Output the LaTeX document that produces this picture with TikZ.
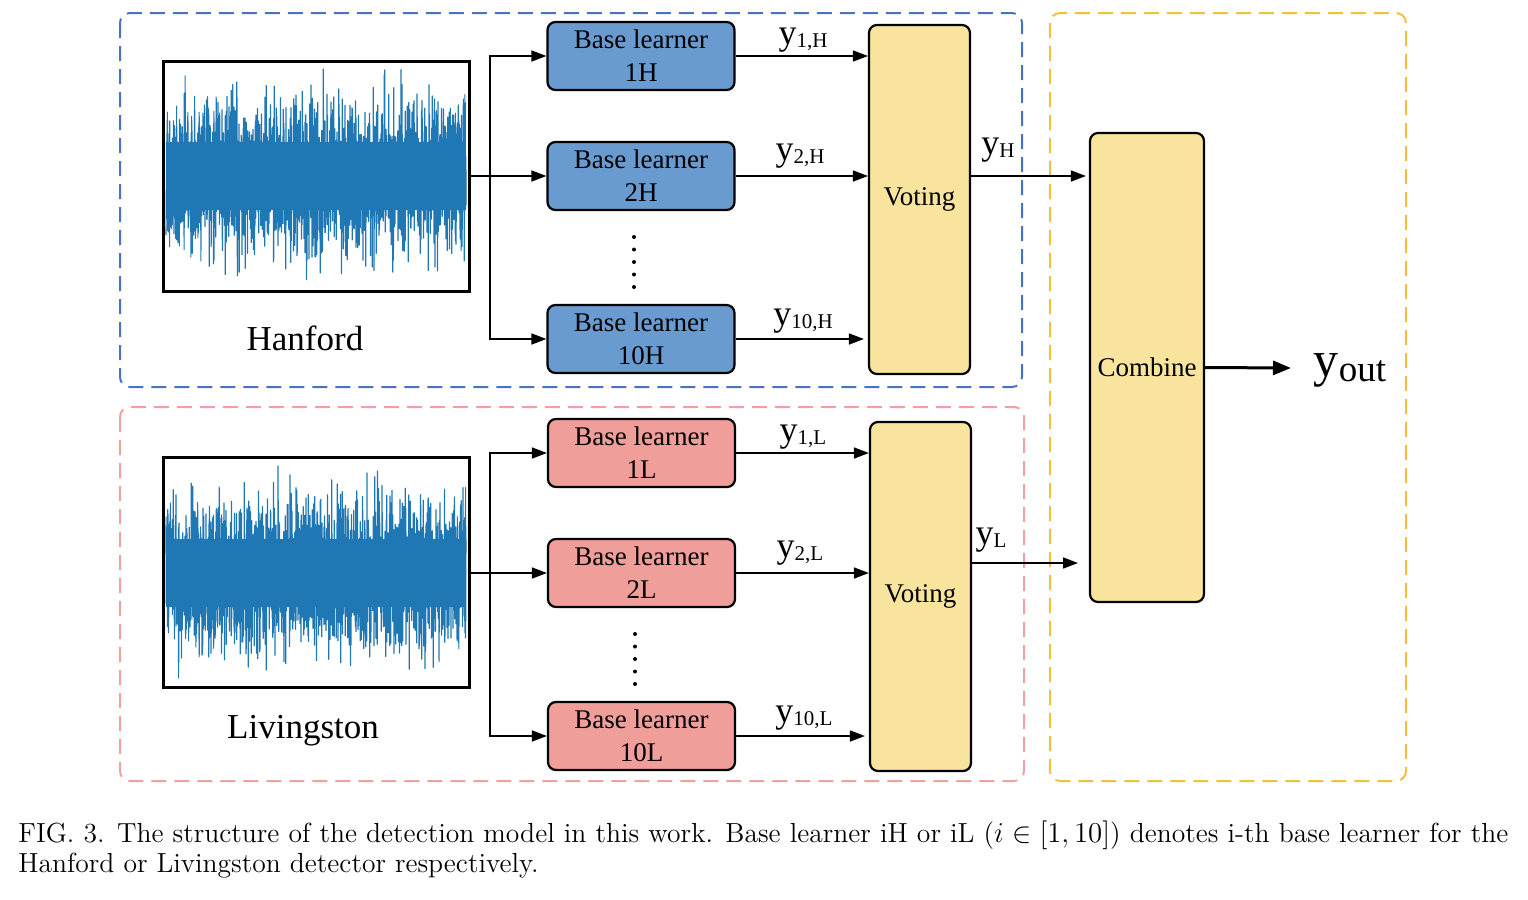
\documentclass[tikz,border=0pt]{standalone}
\usepackage{fontspec}
\newfontfamily\tnr{Liberation Serif}
\usetikzlibrary{arrows.meta,positioning}
\definecolor{hfill}{RGB}{106,155,208}
\definecolor{lfill}{RGB}{240,158,154}
\definecolor{vfill}{RGB}{249,228,157}
\definecolor{hdash}{RGB}{72,114,196}
\definecolor{ldash}{RGB}{240,160,160}
\definecolor{odash}{RGB}{242,192,60}
\definecolor{sigblue}{RGB}{31,119,180}
\newcommand{\ysub}[1]{{\fontsize{18}{18}\selectfont y}\raisebox{-0.3ex}{\fontsize{10.5}{10.5}\selectfont #1}}
\tikzset{
  learner/.style={draw,line width=1.1pt,rounded corners=4pt,minimum width=93.5pt,minimum height=34pt,
    align=center,inner sep=0pt,font=\tnr\fontsize{13.5}{16.5}\selectfont},
  learnerH/.style={learner,fill=hfill},
  learnerL/.style={learner,fill=lfill},
  voter/.style={draw,line width=1.1pt,rounded corners=4pt,fill=vfill,inner sep=0pt,
    font=\tnr\fontsize{13.5}{16.5}\selectfont},
  plotframe/.style={draw,line width=1.5pt,minimum width=153pt,minimum height=115pt,inner sep=0pt},
  site/.style={font=\tnr\fontsize{17.5}{20}\selectfont},
  ylabel/.style={font=\tnr,inner sep=0pt},
  group/.style={line width=1pt,rounded corners=5pt,dash pattern=on 7.5pt off 4pt},
  arr/.style={line width=0.8pt,-{Triangle[length=7.5pt,width=5.5pt]}},
  sig/.style={sigblue,line width=0.6pt,line join=round}
}
\begin{document}
\begin{tikzpicture}[x=0.5pt,y=-0.5pt]
\useasboundingbox (0,0) rectangle (1528,900);
% dashed groups
\draw[group,hdash] (120,13) rectangle (1022,387);
\draw[group,ldash] (120,407) rectangle (1024,781);
\draw[group,odash] (1050,13) rectangle (1406,781);
% strain signals
\begin{scope}
\clip (165,63) rectangle (467,289);
\fill[sigblue] (166,142) rectangle (466,210);
\pgfmathsetseed{7}
\draw[sig] plot[domain=166:466,samples=2400] (\x,{176+31*(rand+rand+rand+rand)});
\end{scope}
\begin{scope}
\clip (165,460) rectangle (467,685);
\fill[sigblue] (166,539) rectangle (466,607);
\pgfmathsetseed{23}
\draw[sig] plot[domain=166:466,samples=2400] (\x,{573+31*(rand+rand+rand+rand)});
\end{scope}
\node[plotframe] (hplot) at (316,176) {};
\node[plotframe] (lplot) at (316,572.5) {};
\node[site] at (305,338) {Hanford};
\node[site] at (303,731) {Livingston};
% base learners
\node[learnerH] (h1) at (641,56) {Base learner\\1H};
\node[learnerH] (h2) at (641,176) {Base learner\\2H};
\node[learnerH] (h10) at (641,339) {Base learner\\10H};
\node[learnerL] (l1) at (641.5,453) {Base learner\\1L};
\node[learnerL] (l2) at (641.5,573) {Base learner\\2L};
\node[learnerL] (l10) at (641.5,736) {Base learner\\10L};
\foreach \d in {237,249.5,262,274.5,287} \fill (634,\d) circle (1pt);
\foreach \d in {634,646.5,659,671.5,684} \fill (635,\d) circle (1pt);
% voting and combine
\node[voter,minimum width=50.5pt,minimum height=174.5pt] (vh) at (919.5,199.5) {Voting};
\node[voter,minimum width=50.5pt,minimum height=174.5pt] (vl) at (920.5,596.5) {Voting};
\node[voter,minimum width=57pt,minimum height=234.5pt] (comb) at (1147,367.5) {Combine};
% fan out
\coordinate (hsplit) at (490,176);
\coordinate (lsplit) at (490,573);
\draw[line width=0.8pt] (hplot.east) -- (hsplit);
\draw[line width=0.8pt] (lplot.east |- lsplit) -- (lsplit);
\foreach \b in {h1,h2,h10} \draw[arr] (hsplit) |- (\b.west);
\foreach \b in {l1,l2,l10} \draw[arr] (lsplit) |- (\b.west);
% learner outputs
\draw[arr] (h1.east) -- (h1.east -| vh.west);
\draw[arr] (h2.east) -- (h2.east -| vh.west);
\draw[arr,shorten >=2pt] (h10.east) -- (h10.east -| vh.west);
\draw[arr] (l1.east) -- (l1.east -| vl.west);
\draw[arr] (l2.east) -- (l2.east -| vl.west);
\draw[arr,shorten >=2pt] (l10.east) -- (l10.east -| vl.west);
\node[ylabel] at (803,40) {\ysub{1,H}};
\node[ylabel] at (800,156) {\ysub{2,H}};
\node[ylabel] at (803,321) {\ysub{10,H}};
\node[ylabel] at (803,437) {\ysub{1,L}};
\node[ylabel] at (800,553) {\ysub{2,L}};
\node[ylabel] at (804,718) {\ysub{10,L}};
% voting outputs
\coordinate (yLin) at (1078,563);
\draw[arr] (vh.east |- h2.east) -- ([xshift=-1.5pt]comb.west |- h2.east);
\draw[arr] (vl.east |- yLin) -- (yLin);
\node[ylabel] at (998,150) {\ysub{H}};
\node[ylabel] at (991,540) {\ysub{L}};
% final output
\coordinate (outtip) at (1291,368);
\draw[line width=1.5pt,-{Triangle[length=9pt,width=7pt]}] (comb.east) -- (outtip);
\node[ylabel,font=\tnr] (yout) at (1350,370) {{\fontsize{25}{25}\selectfont y}\raisebox{-0.6ex}{\fontsize{18.5}{18.5}\selectfont out}};
% caption
\node[anchor=base west,inner sep=0pt,font=\fontsize{13.8}{15}\selectfont] (cap1) at (18,842)
  {\makebox[745pt][s]{FIG. 3. The structure of the detection model in this work. Base learner iH or iL ($i \in [1,10]$) denotes i-th base learner for the}};
\node[anchor=base west,inner sep=0pt,font=\fontsize{13.8}{15}\selectfont] (cap2) at (18,872)
  {Hanford or Livingston detector respectively.};
\end{tikzpicture}
\end{document}
